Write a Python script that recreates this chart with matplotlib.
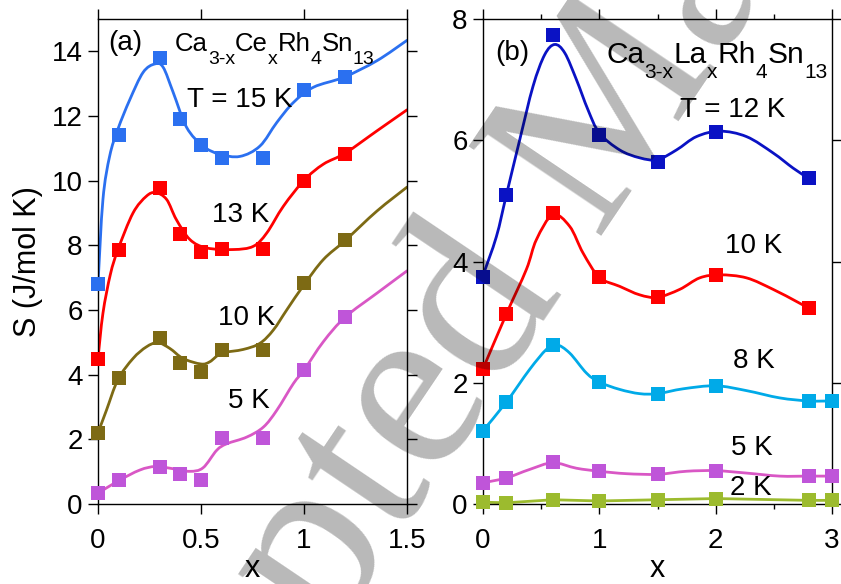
import numpy as np
import matplotlib
matplotlib.use("Agg")
import matplotlib.pyplot as plt
from matplotlib.path import Path
from matplotlib.patches import PathPatch

plt.rcParams['font.family'] = ['Liberation Sans', 'DejaVu Sans']

# ---------------- data: panel (a) Ca3-xCexRh4Sn13 ----------------
xa = [0.0, 0.1, 0.3, 0.4, 0.5, 0.6, 0.8, 1.0, 1.2]
a_15K = [6.8, 11.4, 13.8, 11.9, 11.1, 10.7, 10.7, 12.8, 13.2]
a_13K = [4.5, 7.87, 9.76, 8.35, 7.79, 7.89, 7.89, 10.0, 10.82]
a_10K = [2.2, 3.91, 5.12, 4.35, 4.07, 4.76, 4.76, 6.83, 8.15]
a_5K = [0.33, 0.74, 1.14, 0.93, 0.75, 2.05, 2.05, 4.14, 5.78]

# guide curves
ca_15K_x = [0.0, 0.024, 0.057, 0.097, 0.154, 0.219, 0.276, 0.316, 0.365, 0.43, 0.51, 0.59, 0.689, 0.786, 0.868, 0.949, 1.046, 1.194, 1.354, 1.5]
ca_15K_y = [6.8, 9.42, 10.77, 11.6, 12.5, 13.35, 13.61, 13.51, 12.73, 11.65, 11.07, 10.82, 10.75, 11.07, 11.8, 12.42, 12.89, 13.2, 13.71, 14.34]
ca_13K_x = [0.0, 0.024, 0.06, 0.097, 0.17, 0.235, 0.28, 0.333, 0.38, 0.446, 0.527, 0.657, 0.754, 0.819, 0.9, 1.0, 1.094, 1.2, 1.354, 1.5]
ca_13K_y = [4.5, 5.9, 7.1, 7.87, 9.0, 9.52, 9.63, 9.42, 8.8, 8.18, 7.92, 7.87, 7.97, 8.38, 9.21, 10.01, 10.51, 10.85, 11.54, 12.19]
ca_10K_x = [0.0, 0.041, 0.097, 0.17, 0.235, 0.29, 0.349, 0.413, 0.5, 0.543, 0.6, 0.705, 0.786, 0.851, 0.916, 1.0, 1.094, 1.2, 1.354, 1.5]
ca_10K_y = [2.2, 2.9, 3.85, 4.5, 4.86, 4.99, 4.81, 4.5, 4.33, 4.4, 4.66, 4.78, 4.97, 5.38, 6.0, 6.78, 7.56, 8.15, 9.06, 9.8]
ca_5K_x = [0.0, 0.097, 0.203, 0.28, 0.365, 0.446, 0.51, 0.576, 0.624, 0.722, 0.803, 0.868, 0.949, 1.0, 1.094, 1.2, 1.354, 1.5]
ca_5K_y = [0.33, 0.71, 1.05, 1.16, 1.09, 1.01, 1.12, 1.66, 1.86, 2.07, 2.38, 2.9, 3.73, 4.14, 5.02, 5.78, 6.52, 7.21]

# ---------------- data: panel (b) Ca3-xLaxRh4Sn13 ----------------
xb12 = [0.0, 0.2, 0.6, 1.0, 1.5, 2.0, 2.8]
b_12K = [3.75, 5.09, 7.74, 6.09, 5.64, 6.14, 5.37]
xb10 = [0.0, 0.2, 0.6, 1.0, 1.5, 2.0, 2.8]
b_10K = [2.23, 3.13, 4.80, 3.74, 3.41, 3.77, 3.23]
xb = [0.0, 0.2, 0.6, 1.0, 1.5, 2.0, 2.8, 3.0]
b_8K = [1.21, 1.68, 2.63, 2.01, 1.82, 1.95, 1.70, 1.70]
b_5K = [0.35, 0.43, 0.69, 0.54, 0.49, 0.55, 0.46, 0.46]
b_2K = [0.03, 0.02, 0.07, 0.05, 0.07, 0.09, 0.06, 0.06]

cb_12K_x = [0.0, 0.115, 0.2, 0.316, 0.43, 0.53, 0.617, 0.703, 0.803, 0.903, 1.0, 1.175, 1.347, 1.5, 1.663, 1.835, 2.035, 2.265, 2.494, 2.666, 2.8]
cb_12K_y = [3.77, 4.41, 5.09, 6.01, 6.89, 7.41, 7.58, 7.44, 7.0, 6.5, 6.12, 5.84, 5.71, 5.68, 5.84, 6.06, 6.15, 6.06, 5.79, 5.54, 5.37]
cb_10K_x = [0.0, 0.2, 0.373, 0.459, 0.6, 0.745, 0.86, 1.0, 1.175, 1.347, 1.5, 1.691, 1.863, 2.035, 2.265, 2.494, 2.695, 2.8]
cb_10K_y = [2.23, 3.13, 3.87, 4.36, 4.77, 4.58, 4.14, 3.74, 3.59, 3.45, 3.41, 3.54, 3.73, 3.78, 3.73, 3.54, 3.34, 3.23]
cb_8K_x = [0.0, 0.2, 0.401, 0.545, 0.63, 0.745, 0.889, 1.0, 1.175, 1.347, 1.5, 1.72, 2.0, 2.265, 2.551, 2.8, 3.0]
cb_8K_y = [1.21, 1.68, 2.22, 2.55, 2.63, 2.49, 2.16, 2.01, 1.89, 1.82, 1.82, 1.90, 1.95, 1.87, 1.75, 1.70, 1.70]
cb_5K_x = [0.0, 0.2, 0.401, 0.6, 0.803, 1.0, 1.233, 1.5, 1.749, 2.0, 2.265, 2.551, 2.8, 3.0]
cb_5K_y = [0.35, 0.43, 0.57, 0.68, 0.59, 0.54, 0.50, 0.49, 0.54, 0.55, 0.51, 0.46, 0.46, 0.46]

# formula pieces (text, is_subscript)
formula_a = [('Ca', False), ('3-x', True), ('Ce', False), ('x', True),
             ('Rh', False), ('4', True), ('Sn', False), ('13', True)]
formula_b = [('Ca', False), ('3-x', True), ('La', False), ('x', True),
             ('Rh', False), ('4', True), ('Sn', False), ('13', True)]

# colours
C15 = '#2b70f0'
CRED = '#ff0000'
COL = '#7d6a14'
C5M = '#bf55d9'
C5L = '#d957c5'
C12 = '#0a12c4'
C8 = '#00aae8'
C2 = '#9cbb2e'


def smooth_path(ax, xs, ys, color, lw=2.0):
    """Catmull-Rom curve through the given points drawn as a cubic Bezier path."""
    p = np.column_stack([xs, ys]).astype(float)
    n = len(p)
    verts = [p[0]]
    codes = [Path.MOVETO]
    for i in range(n - 1):
        p0 = p[i - 1] if i > 0 else p[i]
        p1 = p[i]
        p2 = p[i + 1]
        p3 = p[i + 2] if i + 2 < n else p[i + 1]
        c1 = p1 + (p2 - p0) / 6.0
        c2 = p2 - (p3 - p1) / 6.0
        verts += [c1, c2, p2]
        codes += [Path.CURVE4] * 3
    patch = PathPatch(Path(verts, codes), facecolor='none', edgecolor=color,
                      lw=lw, capstyle='round', joinstyle='round', zorder=2)
    ax.add_patch(patch)


def chem(ax, x, y, parts, fs, sfs, drop):
    """Chemical formula built from chained text pieces with lowered subscripts."""
    d_main = 0.21 * fs
    d_sub = 0.21 * sfs
    prev = ax.text(x, y, parts[0][0], fontsize=fs, va='baseline', ha='left')
    prev_sub = parts[0][1]
    for s, sub in parts[1:]:
        if sub and not prev_sub:
            dy = (d_main - d_sub) - drop
        elif prev_sub and not sub:
            dy = drop - (d_main - d_sub)
        else:
            dy = 0
        prev = ax.annotate(s, xy=(1, 0), xycoords=prev, xytext=(0, dy),
                           textcoords='offset points', fontsize=sfs if sub else fs,
                           va='bottom', ha='left')
        prev_sub = sub


fig = plt.figure(figsize=(8.41, 5.84), dpi=100)
axA = fig.add_axes([98 / 841, 80 / 584, 309 / 841, 485 / 584])
axB = fig.add_axes([483 / 841, 80 / 584, 349 / 841, 485 / 584])

MS = 10.0
FS = 20
LFS = 22

# ---- panel a ----
for cx, cy, xs, ys, lc, mc in [
    (ca_15K_x, ca_15K_y, xa, a_15K, C15, C15),
    (ca_13K_x, ca_13K_y, xa, a_13K, CRED, CRED),
    (ca_10K_x, ca_10K_y, xa, a_10K, COL, COL),
    (ca_5K_x, ca_5K_y, xa, a_5K, C5L, C5M),
]:
    smooth_path(axA, cx, cy, lc)
    axA.plot(xs, ys, 's', color=mc, ms=MS, mew=0, zorder=3, clip_on=False)

axA.set_xlim(0, 1.5)
axA.set_ylim(0, 15)
axA.set_xticks([0, 0.5, 1, 1.5])
axA.set_xticklabels(['0', '0.5', '1', '1.5'])
axA.set_yticks([0, 2, 4, 6, 8, 10, 12, 14])
axA.set_ylabel('S (J/mol K)', fontsize=LFS, labelpad=6)
axA.set_xlabel('x', fontsize=LFS, labelpad=0.5)

axA.text(0.049, 14.03, '(a)', fontsize=20)
chem(axA, 0.374, 14.0, formula_a, 18.5, 14, 9.0)
axA.text(0.43, 12.27, 'T = 15 K', fontsize=20)
axA.text(0.551, 8.71, '13 K', fontsize=20)
axA.text(0.584, 5.54, '10 K', fontsize=20)
axA.text(0.632, 2.97, '5 K', fontsize=20)

# ---- panel b ----
smooth_path(axB, cb_12K_x, cb_12K_y, C12)
axB.plot(xb12, b_12K, 's', color=C12, ms=MS, mew=0, zorder=3, clip_on=False)
smooth_path(axB, cb_10K_x, cb_10K_y, CRED)
axB.plot(xb10, b_10K, 's', color=CRED, ms=MS, mew=0, zorder=3, clip_on=False)
smooth_path(axB, cb_8K_x, cb_8K_y, C8)
axB.plot(xb, b_8K, 's', color=C8, ms=MS, mew=0, zorder=3, clip_on=False)
smooth_path(axB, cb_5K_x, cb_5K_y, C5L)
axB.plot(xb, b_5K, 's', color=C5M, ms=MS, mew=0, zorder=3, clip_on=False)
axB.plot(xb, b_2K, '-', color=C2, lw=2.0, zorder=2, clip_on=False)
axB.plot(xb, b_2K, 's', color=C2, ms=MS, mew=0, zorder=3, clip_on=False)

axB.set_xlim(0, 3)
axB.set_ylim(0, 8)
axB.set_xticks([0, 1, 2, 3])
axB.set_xticks([0.5, 1.5, 2.5], minor=True)
axB.set_yticks([0, 2, 4, 6, 8])
axB.set_xlabel('x', fontsize=LFS, labelpad=0.5)

axB.text(0.109, 7.33, '(b)', fontsize=20)
chem(axB, 1.061, 7.27, formula_b, 21.5, 15, 10.5)
axB.text(1.691, 6.39, 'T = 12 K', fontsize=20)
axB.text(2.078, 4.14, '10 K', fontsize=20)
axB.text(2.15, 2.25, '8 K', fontsize=20)
axB.text(2.135, 0.81, '5 K', fontsize=20)
axB.text(2.12, 0.15, '2 K', fontsize=20)

for ax in (axA, axB):
    ax.tick_params(which='major', direction='out', length=7, width=1.0,
                   top=True, right=True, labelsize=FS)
    ax.tick_params(axis='x', which='major', pad=10)
    ax.tick_params(axis='y', which='major', pad=4)
    ax.tick_params(which='minor', direction='out', length=3.5, width=1.0,
                   top=True, right=True)
    for s in ax.spines.values():
        s.set_linewidth(1.0)

# watermark
fig.text(48 / 841, 1 - 1057 / 584, 'Accepted Manuscript', rotation=56,
         rotation_mode='anchor', ha='left', va='baseline', fontsize=176,
         family='Liberation Serif', color='black', alpha=0.28, zorder=10)

fig.savefig('out.png', dpi=100)
